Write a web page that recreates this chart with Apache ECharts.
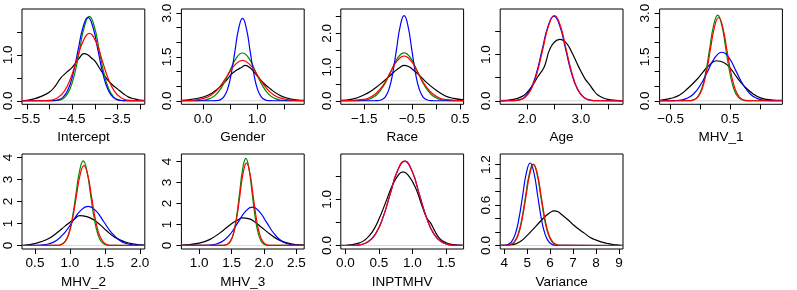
<!DOCTYPE html>
<html><head><meta charset="utf-8">
<script src="https://cdn.jsdelivr.net/npm/echarts@6/dist/echarts.min.js"></script>
<style>html,body{margin:0;padding:0;background:#fff}#c{width:797px;height:290px}</style>
</head><body><div id="c"></div>
<script>
// ---------- panels ----------
const titles = ['Intercept','Gender','Race','Age','MHV_1','MHV_2','MHV_3','INPTMHV','Variance'];
const xRanges = [[-5.61,-2.894],[-0.404,1.874],[-1.99,0.57],[1.502,3.782],[-0.686,1.376],[0.314,2.071],[0.726,2.62],[-0.067,1.762],[3.825,9.175]];
const yRanges = [[-0.077,2.004],[-0.121,3.141],[-0.105,2.725],[-0.076,1.986],[-0.121,3.141],[-0.16,4.16],[-0.168,4.357],[-0.076,1.986],[-0.052,1.359]];
// ---------- tick marks and tick labels ----------
const xTicks = [[-5.5,-5,-4.5,-4,-3.5,-3],[0,0.5,1,1.5],[-1.5,-1,-0.5,0,0.5],[2,2.5,3,3.5],[-0.5,0,0.5,1],[0.5,1,1.5,2],[1,1.5,2,2.5],[0,0.5,1,1.5],[4,5,6,7,8,9]];
const xLabelValues = [[-5.5,-4.5,-3.5],[0,1],[-1.5,-0.5,0.5],[2,3],[-0.5,0.5],[0.5,1,1.5,2],[1,1.5,2,2.5],[0,0.5,1,1.5],[4,5,6,7,8,9]];
const xLabelText = [['−5.5','−4.5','−3.5'],['0.0','1.0'],['−1.5','−0.5','0.5'],['2.0','3.0'],['−0.5','0.5'],['0.5','1.0','1.5','2.0'],['1.0','1.5','2.0','2.5'],['0.0','0.5','1.0','1.5'],['4','5','6','7','8','9']];
const yTicks = [[0,0.5,1,1.5],[0,0.5,1,1.5,2,2.5,3],[0,0.5,1,1.5,2,2.5],[0,0.5,1,1.5],[0,0.5,1,1.5,2,2.5,3],[0,1,2,3,4],[0,1,2,3,4],[0,0.5,1,1.5],[0,0.2,0.4,0.6,0.8,1,1.2]];
const yLabelValues = [[0,1],[0,1.5,3],[0,1,2],[0,1],[0,1.5,3],[0,1,2,3,4],[0,1,2,3,4],[0,1],[0,0.6,1.2]];
const yLabelText = [['0.0','1.0'],['0.0','1.5','3.0'],['0.0','1.0','2.0'],['0.0','1.0'],['0.0','1.5','3.0'],['0','1','2','3','4'],['0','1','2','3','4'],['0.0','1.0'],['0.0','0.6','1.2']];

// ---------- density curves [x, density] ----------
const interceptBlack = [[-5.61,0],[-5.5,0.01],[-5.35,0.04],[-5.2,0.09],[-5.0,0.19],[-4.875,0.32],[-4.75,0.5],[-4.625,0.62],[-4.5,0.73],[-4.4,0.86],[-4.33,0.95],[-4.24,1.03],[-4.15,1.0],[-4.08,0.94],[-4.0,0.87],[-3.875,0.68],[-3.75,0.5],[-3.625,0.36],[-3.5,0.26],[-3.375,0.16],[-3.25,0.08],[-3.125,0.04],[-3.0,0.015],[-2.894,0.005]];
const interceptGreen = [[-5.61,0],[-4.984,0.0006],[-4.876,0.004],[-4.768,0.02],[-4.66,0.081],[-4.552,0.25],[-4.444,0.599],[-4.336,1.119],[-4.228,1.628],[-4.12,1.845],[-4.012,1.628],[-3.904,1.119],[-3.796,0.599],[-3.688,0.25],[-3.58,0.081],[-3.472,0.02],[-3.364,0.004],[-3.256,0.0006],[-2.894,0]];
const interceptBlue = [[-5.61,0],[-5.03,0.0005],[-4.92,0.004],[-4.81,0.02],[-4.70,0.08],[-4.59,0.246],[-4.48,0.591],[-4.37,1.104],[-4.26,1.606],[-4.15,1.82],[-4.04,1.606],[-3.93,1.104],[-3.82,0.591],[-3.71,0.246],[-3.60,0.08],[-3.49,0.02],[-3.38,0.004],[-3.27,0.0005],[-2.894,0]];
const interceptRed = [[-5.61,0],[-5.24,0.0004],[-5.10,0.003],[-4.96,0.016],[-4.82,0.065],[-4.68,0.199],[-4.54,0.477],[-4.40,0.892],[-4.26,1.297],[-4.12,1.47],[-3.98,1.297],[-3.84,0.892],[-3.70,0.477],[-3.56,0.199],[-3.42,0.065],[-3.28,0.016],[-3.14,0.003],[-3.00,0.0004],[-2.894,0]];

const genderBlack = [[-0.404,0.01],[-0.22,0.05],[0.0,0.13],[0.16,0.26],[0.31,0.47],[0.44,0.72],[0.53,0.92],[0.63,1.06],[0.71,1.14],[0.78,1.21],[0.875,1.12],[0.97,0.92],[1.09,0.66],[1.25,0.4],[1.41,0.2],[1.56,0.09],[1.72,0.03],[1.874,0.01]];
const genderGreen = [[-0.404,0],[-0.246,0.0005],[-0.124,0.0036],[-0.002,0.018],[0.12,0.072],[0.242,0.221],[0.364,0.531],[0.486,0.992],[0.608,1.443],[0.73,1.635],[0.852,1.443],[0.974,0.992],[1.096,0.531],[1.218,0.221],[1.34,0.072],[1.462,0.018],[1.584,0.0036],[1.706,0.0005],[1.874,0]];
const genderBlue = [[-0.404,0],[0.17,0.0008],[0.24,0.006],[0.31,0.031],[0.38,0.124],[0.45,0.382],[0.52,0.916],[0.59,1.71],[0.66,2.489],[0.73,2.82],[0.80,2.489],[0.87,1.71],[0.94,0.916],[1.01,0.382],[1.08,0.124],[1.15,0.031],[1.22,0.006],[1.29,0.0008],[1.874,0]];
const genderRed = [[-0.404,0.002],[-0.285,0.01],[-0.14,0.03],[0.005,0.08],[0.15,0.2],[0.295,0.448],[0.44,0.837],[0.585,1.218],[0.73,1.38],[0.875,1.218],[1.02,0.837],[1.165,0.448],[1.31,0.2],[1.455,0.08],[1.6,0.03],[1.745,0.01],[1.874,0.003]];

const raceBlack = [[-1.99,0.01],[-1.75,0.05],[-1.5,0.18],[-1.32,0.33],[-1.18,0.48],[-1.0,0.7],[-0.87,0.87],[-0.76,0.99],[-0.67,1.05],[-0.57,1.01],[-0.5,0.94],[-0.34,0.74],[-0.2,0.54],[0.0,0.31],[0.18,0.15],[0.36,0.07],[0.57,0.03]];
const raceGreen = [[-1.99,0.0002],[-1.79,0.001],[-1.65,0.005],[-1.51,0.02],[-1.37,0.065],[-1.23,0.193],[-1.09,0.463],[-0.95,0.864],[-0.81,1.258],[-0.67,1.425],[-0.53,1.258],[-0.39,0.864],[-0.25,0.463],[-0.11,0.193],[0.03,0.065],[0.17,0.02],[0.31,0.005],[0.45,0.001],[0.57,0.0002]];
const raceBlue = [[-1.99,0],[-1.302,0.0008],[-1.223,0.0056],[-1.144,0.028],[-1.065,0.111],[-0.986,0.342],[-0.907,0.821],[-0.828,1.534],[-0.749,2.233],[-0.67,2.53],[-0.591,2.233],[-0.512,1.534],[-0.433,0.821],[-0.354,0.342],[-0.275,0.111],[-0.196,0.028],[-0.117,0.0056],[-0.038,0.0008],[0.57,0]];
const raceRed = [[-1.99,0.003],[-1.87,0.006],[-1.72,0.015],[-1.57,0.035],[-1.42,0.075],[-1.27,0.2],[-1.12,0.432],[-0.97,0.807],[-0.82,1.174],[-0.67,1.33],[-0.52,1.174],[-0.37,0.807],[-0.22,0.432],[-0.07,0.2],[0.08,0.075],[0.23,0.035],[0.38,0.015],[0.53,0.006],[0.57,0.005]];

const ageBlack = [[1.502,0.003],[1.75,0.03],[1.9,0.09],[2.0,0.18],[2.1,0.33],[2.2,0.52],[2.31,0.71],[2.36,0.88],[2.41,1.08],[2.5,1.26],[2.61,1.33],[2.68,1.3],[2.75,1.22],[2.81,1.1],[2.88,0.93],[2.94,0.78],[3.0,0.64],[3.08,0.47],[3.16,0.35],[3.24,0.22],[3.31,0.13],[3.4,0.07],[3.5,0.03],[3.65,0.01],[3.782,0.002]];
const ageBlue = [[1.502,0],[1.628,0.0005],[1.737,0.004],[1.846,0.02],[1.955,0.08],[2.064,0.248],[2.173,0.594],[2.282,1.11],[2.391,1.615],[2.50,1.83],[2.609,1.615],[2.718,1.11],[2.827,0.594],[2.936,0.248],[3.045,0.08],[3.154,0.02],[3.263,0.004],[3.372,0.0005],[3.782,0]];
const ageRed = [[1.502,0],[1.646,0.0006],[1.754,0.004],[1.862,0.02],[1.97,0.081],[2.078,0.25],[2.186,0.599],[2.294,1.119],[2.402,1.628],[2.51,1.845],[2.618,1.628],[2.726,1.119],[2.834,0.599],[2.942,0.25],[3.05,0.081],[3.158,0.02],[3.266,0.004],[3.374,0.0006],[3.782,0]];

const mhv1Black = [[-0.686,0.01],[-0.63,0.03],[-0.5,0.08],[-0.35,0.2],[-0.21,0.43],[-0.065,0.72],[0.05,1.0],[0.13,1.18],[0.27,1.37],[0.39,1.31],[0.5,1.12],[0.61,0.81],[0.73,0.51],[0.87,0.26],[1.01,0.1],[1.18,0.03],[1.376,0.01]];
const mhv1Green = [[-0.686,0],[-0.254,0.0009],[-0.186,0.006],[-0.118,0.033],[-0.05,0.129],[0.018,0.396],[0.086,0.951],[0.154,1.777],[0.222,2.586],[0.29,2.93],[0.358,2.586],[0.426,1.777],[0.494,0.951],[0.562,0.396],[0.63,0.129],[0.698,0.033],[0.766,0.006],[0.834,0.0009],[1.376,0]];
const mhv1Blue = [[-0.686,0],[-0.60,0.0005],[-0.48,0.004],[-0.36,0.018],[-0.24,0.073],[-0.12,0.225],[0.0,0.539],[0.12,1.007],[0.24,1.465],[0.36,1.66],[0.48,1.465],[0.60,1.007],[0.72,0.539],[0.84,0.225],[0.96,0.073],[1.08,0.018],[1.2,0.004],[1.32,0.0005],[1.376,0]];
const mhv1Red = [[-0.686,0],[-0.255,0.0009],[-0.185,0.006],[-0.115,0.032],[-0.045,0.125],[0.025,0.386],[0.095,0.925],[0.165,1.729],[0.235,2.515],[0.305,2.85],[0.375,2.515],[0.445,1.729],[0.515,0.925],[0.585,0.386],[0.655,0.125],[0.725,0.032],[0.795,0.006],[0.865,0.0009],[1.376,0]];

const mhv2Black = [[0.314,0.01],[0.36,0.015],[0.5,0.09],[0.67,0.27],[0.81,0.57],[0.93,0.88],[1.0,1.06],[1.07,1.22],[1.14,1.36],[1.24,1.31],[1.33,1.18],[1.43,0.95],[1.52,0.68],[1.64,0.38],[1.78,0.17],[1.92,0.06],[2.071,0.015]];
const mhv2Green = [[0.314,0],[0.774,0.001],[0.826,0.008],[0.878,0.043],[0.93,0.169],[0.982,0.521],[1.034,1.25],[1.086,2.335],[1.138,3.398],[1.19,3.85],[1.242,3.398],[1.294,2.335],[1.346,1.25],[1.398,0.521],[1.45,0.169],[1.502,0.043],[1.554,0.008],[1.606,0.001],[2.071,0]];
const mhv2Blue = [[0.314,0],[0.364,0.0005],[0.476,0.004],[0.588,0.02],[0.7,0.078],[0.812,0.241],[0.924,0.578],[1.036,1.08],[1.148,1.571],[1.26,1.78],[1.372,1.571],[1.484,1.08],[1.596,0.578],[1.708,0.241],[1.82,0.078],[1.932,0.02],[2.044,0.004],[2.071,0.003]];
const mhv2Red = [[0.314,0],[0.76,0.001],[0.815,0.008],[0.87,0.040],[0.925,0.159],[0.98,0.491],[1.035,1.179],[1.09,2.202],[1.145,3.203],[1.2,3.63],[1.255,3.203],[1.31,2.202],[1.365,1.179],[1.42,0.491],[1.475,0.159],[1.53,0.040],[1.585,0.008],[1.64,0.001],[2.071,0]];

const mhv3Black = [[0.726,0.01],[0.75,0.015],[1.0,0.11],[1.16,0.28],[1.32,0.6],[1.42,0.84],[1.52,1.08],[1.6,1.22],[1.66,1.31],[1.76,1.28],[1.86,1.12],[1.96,0.87],[2.09,0.55],[2.22,0.28],[2.37,0.11],[2.5,0.04],[2.62,0.015]];
const mhv3Green = [[0.726,0],[1.336,0.0012],[1.384,0.009],[1.432,0.046],[1.48,0.182],[1.528,0.561],[1.576,1.348],[1.624,2.517],[1.672,3.662],[1.72,4.15],[1.768,3.662],[1.816,2.517],[1.864,1.348],[1.912,0.561],[1.96,0.182],[2.008,0.046],[2.056,0.009],[2.104,0.0012],[2.62,0]];
const mhv3Blue = [[0.726,0],[0.948,0.0005],[1.057,0.004],[1.166,0.02],[1.275,0.08],[1.384,0.248],[1.493,0.594],[1.602,1.11],[1.711,1.615],[1.82,1.83],[1.929,1.615],[2.038,1.11],[2.147,0.594],[2.256,0.248],[2.365,0.08],[2.474,0.02],[2.583,0.004],[2.62,0.002]];
const mhv3Red = [[0.726,0],[1.322,0.0012],[1.373,0.009],[1.424,0.044],[1.475,0.172],[1.526,0.53],[1.577,1.273],[1.628,2.377],[1.679,3.459],[1.73,3.92],[1.781,3.459],[1.832,2.377],[1.883,1.273],[1.934,0.53],[1.985,0.172],[2.036,0.044],[2.087,0.009],[2.138,0.0012],[2.62,0]];

const inptBlack = [[-0.067,0.003],[0.0,0.005],[0.2,0.05],[0.3,0.13],[0.4,0.29],[0.5,0.57],[0.6,0.93],[0.7,1.3],[0.8,1.55],[0.86,1.6],[0.95,1.5],[1.05,1.24],[1.15,0.83],[1.22,0.58],[1.27,0.49],[1.32,0.35],[1.4,0.16],[1.5,0.06],[1.6,0.02],[1.762,0.003]];
const inptBlue = [[-0.067,0],[0.013,0.0005],[0.122,0.004],[0.231,0.02],[0.34,0.08],[0.449,0.248],[0.558,0.594],[0.667,1.11],[0.776,1.615],[0.885,1.83],[0.994,1.615],[1.103,1.11],[1.212,0.594],[1.321,0.248],[1.43,0.08],[1.539,0.02],[1.648,0.004],[1.757,0.0005],[1.762,0]];
const inptRed = [[-0.067,0],[0.013,0.0005],[0.122,0.004],[0.231,0.02],[0.34,0.08],[0.449,0.248],[0.558,0.594],[0.667,1.11],[0.776,1.615],[0.885,1.83],[0.994,1.615],[1.103,1.11],[1.212,0.594],[1.321,0.248],[1.43,0.08],[1.539,0.02],[1.648,0.004],[1.757,0.0005],[1.762,0]];

const varBlack = [[3.825,0.001],[4.2,0.005],[4.5,0.025],[4.75,0.07],[5.0,0.15],[5.25,0.24],[5.5,0.33],[5.75,0.42],[6.0,0.49],[6.18,0.515],[6.35,0.5],[6.5,0.46],[6.75,0.39],[7.0,0.31],[7.25,0.24],[7.5,0.18],[7.75,0.12],[8.0,0.08],[8.25,0.05],[8.5,0.03],[8.75,0.015],[9.0,0.007],[9.175,0.004]];
const varGreen = [[3.825,0],[3.94,0.0004],[4.105,0.0027],[4.27,0.0134],[4.435,0.053],[4.6,0.164],[4.765,0.393],[4.93,0.734],[5.095,1.068],[5.26,1.21],[5.425,1.068],[5.59,0.734],[5.755,0.393],[5.92,0.164],[6.085,0.053],[6.25,0.0134],[6.415,0.0027],[6.58,0.0004],[9.175,0]];
const varBlue = [[3.826,0.0004],[3.989,0.0027],[4.152,0.0136],[4.315,0.054],[4.478,0.166],[4.641,0.398],[4.804,0.743],[4.967,1.081],[5.13,1.225],[5.293,1.081],[5.456,0.743],[5.619,0.398],[5.782,0.166],[5.945,0.054],[6.108,0.0136],[6.271,0.0027],[6.434,0.0004],[9.175,0]];
const varRed = [[3.825,0],[3.952,0.0004],[4.118,0.0026],[4.284,0.0133],[4.45,0.053],[4.616,0.162],[4.782,0.39],[4.948,0.728],[5.114,1.059],[5.28,1.2],[5.446,1.059],[5.612,0.728],[5.778,0.39],[5.944,0.162],[6.11,0.053],[6.276,0.0133],[6.442,0.0026],[6.608,0.0004],[9.175,0]];

const blackCurves = [interceptBlack, genderBlack, raceBlack, ageBlack, mhv1Black, mhv2Black, mhv3Black, inptBlack, varBlack];
const greenCurves = [interceptGreen, genderGreen, raceGreen, null, mhv1Green, mhv2Green, mhv3Green, null, varGreen];
const blueCurves = [interceptBlue, genderBlue, raceBlue, ageBlue, mhv1Blue, mhv2Blue, mhv3Blue, inptBlue, varBlue];
const redCurves = [interceptRed, genderRed, raceRed, ageRed, mhv1Red, mhv2Red, mhv3Red, inptRed, varRed];

// ---------- build ----------
const FONT = 'Liberation Sans';
const FS = 13.5;
const chart = echarts.init(document.getElementById('c'), null, {renderer: 'canvas'});
const grid = [], xAxis = [], yAxis = [], series = [];
function pick(vals, texts) {
  return function (v) {
    const k = vals.findIndex(u => Math.abs(u - v) < 1e-9);
    return k >= 0 ? texts[k] : '';
  };
}
function addLine(i, data, color) {
  if (!data) return;
  series.push({
    type: 'line', xAxisIndex: i, yAxisIndex: i, data: data,
    symbol: 'none', smooth: 0.5, silent: true,
    lineStyle: {color: color, width: 1.2}
  });
}
for (let i = 0; i < 9; i++) {
  const col = i % 5, row = Math.floor(i / 5);
  grid.push({left: 22 + 159.4 * col, top: 9 + 145 * row, width: 122.8, height: 95.3,
    show: true, borderColor: '#000', borderWidth: 1, backgroundColor: 'transparent'});
  xAxis.push({
    type: 'value', gridIndex: i, min: xRanges[i][0], max: xRanges[i][1],
    name: titles[i], nameLocation: 'middle', nameGap: 26,
    nameTextStyle: {fontFamily: FONT, fontSize: FS, color: '#000'},
    axisLine: {show: false, onZero: false}, splitLine: {show: false},
    axisTick: {show: true, inside: false, length: 5, customValues: xTicks[i], lineStyle: {color: '#000', width: 1}},
    axisLabel: {show: true, customValues: xLabelValues[i], formatter: pick(xLabelValues[i], xLabelText[i]),
      margin: 7.5, fontFamily: FONT, fontSize: FS, color: '#000'}
  });
  yAxis.push({
    type: 'value', gridIndex: i, min: yRanges[i][0], max: yRanges[i][1],
    axisLine: {show: false, onZero: false}, splitLine: {show: false},
    axisTick: {show: true, inside: false, length: 5, customValues: yTicks[i], lineStyle: {color: '#000', width: 1}},
    axisLabel: {show: true, rotate: 90, customValues: yLabelValues[i], formatter: pick(yLabelValues[i], yLabelText[i]),
      margin: 7, fontFamily: FONT, fontSize: FS, color: '#000'}
  });
  addLine(i, blackCurves[i], '#000000');
  series.push({type: 'line', xAxisIndex: i, yAxisIndex: i, silent: true, symbol: 'none',
    data: [[xRanges[i][0], 0], [xRanges[i][1], 0]], lineStyle: {color: '#bebebe', width: 0.6}});
  addLine(i, greenCurves[i], '#008B00');
  addLine(i, blueCurves[i], '#0000FF');
  addLine(i, redCurves[i], '#FF0000');
}
chart.setOption({animation: false, backgroundColor: '#ffffff', grid, xAxis, yAxis, series});
</script>
</body></html>
